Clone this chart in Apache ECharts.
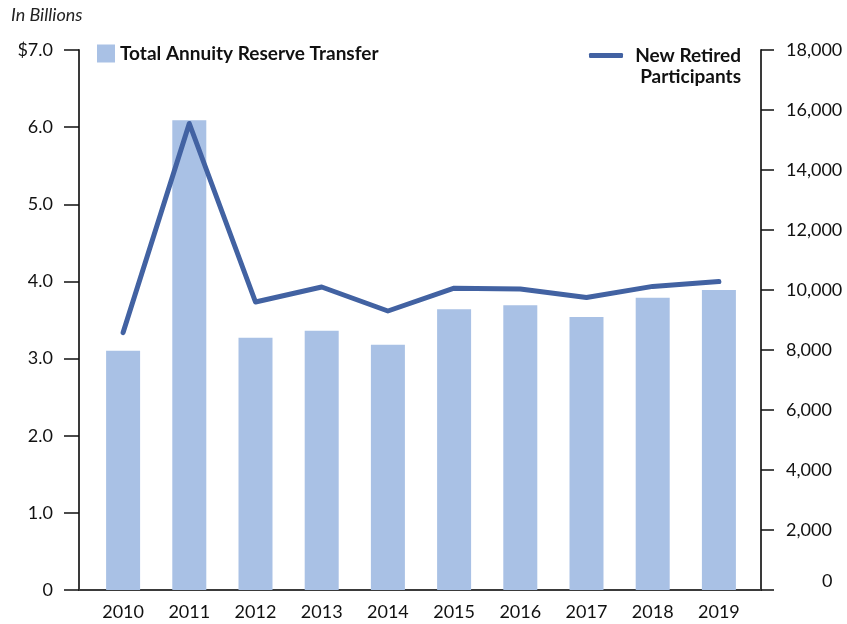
<!DOCTYPE html>
<html>
<head>
<meta charset="utf-8">
<script src="https://cdn.jsdelivr.net/npm/echarts@6/dist/echarts.min.js"></script>
<style>
  html, body { margin: 0; padding: 0; background: #fff; }
  #chart { width: 847px; height: 624px; }
</style>
</head>
<body>
<div id="chart"></div>
<script>
const years = ['2010', '2011', '2012', '2013', '2014', '2015', '2016', '2017', '2018', '2019'];
// billions of dollars
const reserveTransfer = [3.10, 6.09, 3.27, 3.36, 3.18, 3.64, 3.69, 3.54, 3.79, 3.89];
// people
const newRetired = [8580, 15550, 9600, 10100, 9300, 10060, 10030, 9750, 10120, 10280];

const fontFamily = 'Lato, "Open Sans", sans-serif';
const axisColor = '#3a3a3a';

const chart = echarts.init(document.getElementById('chart'), null, {renderer: 'canvas'});

const option = {
    backgroundColor: '#fff',
    textStyle: {fontFamily: fontFamily},
    title: {
        text: 'In Billions',
        left: 11,
        top: 6,
        padding: 0,
        textStyle: {fontSize: 18, fontStyle: 'italic', fontWeight: 'normal', color: '#222', fontFamily: fontFamily}
    },
    legend: [
        {
            data: ['Total Annuity Reserve Transfer'],
            left: 97,
            top: 44,
            padding: 0,
            icon: 'rect',
            itemWidth: 18,
            itemHeight: 18,
            itemGap: 10,
            textStyle: {fontSize: 19, fontWeight: 'bold', color: '#111', fontFamily: fontFamily}
        },
        {
            data: ['New Retired Participants'],
            left: 589,
            top: 46,
            padding: 0,
            icon: 'roundRect',
            itemWidth: 34,
            itemHeight: 5,
            itemGap: 8,
            formatter: function () {
                return '{a|New Retired}\n{a|Participants}';
            },
            textStyle: {
                padding: [21, 0, 0, 0],
                rich: {
                    a: {width: 113, align: 'right', fontSize: 19, fontWeight: 'bold', color: '#111', lineHeight: 21, fontFamily: fontFamily}
                }
            }
        }
    ],
    grid: [
        {left: 90, right: 95, top: 50, bottom: 34},
        {left: 79, right: 86, top: 50, bottom: 34}
    ],
    xAxis: [
        {
            type: 'category',
            gridIndex: 0,
            data: years,
            axisLine: {show: false},
            axisTick: {show: false},
            axisLabel: {fontSize: 18, color: '#111', margin: 13, fontFamily: fontFamily}
        },
        {
            type: 'value',
            gridIndex: 1,
            min: 0,
            max: 1,
            axisLine: {show: true, lineStyle: {color: axisColor, width: 2}},
            axisTick: {show: false},
            axisLabel: {show: false},
            splitLine: {show: false}
        }
    ],
    yAxis: [
        {
            type: 'value',
            gridIndex: 0,
            min: 0,
            max: 7,
            interval: 1,
            offset: 11,
            axisLine: {show: true, lineStyle: {color: axisColor, width: 2}},
            axisTick: {show: true, inside: false, length: 15, lineStyle: {color: '#111', width: 1.5}},
            axisLabel: {
                fontSize: 18, color: '#111', margin: 26, fontFamily: fontFamily,
                formatter: function (v) {
                    if (v === 0) return '0';
                    if (v === 7) return '$7.0';
                    return v.toFixed(1);
                }
            },
            splitLine: {show: false}
        },
        {
            type: 'value',
            gridIndex: 0,
            position: 'right',
            min: 0,
            max: 18000,
            interval: 2000,
            offset: 9,
            axisLine: {show: true, lineStyle: {color: axisColor, width: 2}},
            axisTick: {show: true, inside: false, length: 13, lineStyle: {color: '#111', width: 1.5}},
            axisLabel: {
                fontSize: 18, color: '#111', margin: 25, fontFamily: fontFamily,
                formatter: function (v) {
                    if (v === 0) return '{z|0}';
                    return v.toLocaleString('en-US');
                },
                rich: {
                    z: {fontSize: 18, color: '#111', padding: [0, 0, 18, 36], fontFamily: fontFamily}
                }
            },
            splitLine: {show: false}
        },
        {
            type: 'value',
            gridIndex: 1,
            show: false
        }
    ],
    series: [
        {
            name: 'Total Annuity Reserve Transfer',
            type: 'bar',
            xAxisIndex: 0,
            yAxisIndex: 0,
            data: reserveTransfer,
            barWidth: 34,
            itemStyle: {color: '#a9c1e5'},
            z: 1
        },
        {
            name: 'New Retired Participants',
            type: 'line',
            xAxisIndex: 0,
            yAxisIndex: 1,
            data: newRetired,
            symbol: 'none',
            lineStyle: {color: '#4262a2', width: 5, cap: 'round', join: 'round'},
            itemStyle: {color: '#4262a2'},
            z: 3
        }
    ]
};

chart.setOption(option);
</script>
</body>
</html>
